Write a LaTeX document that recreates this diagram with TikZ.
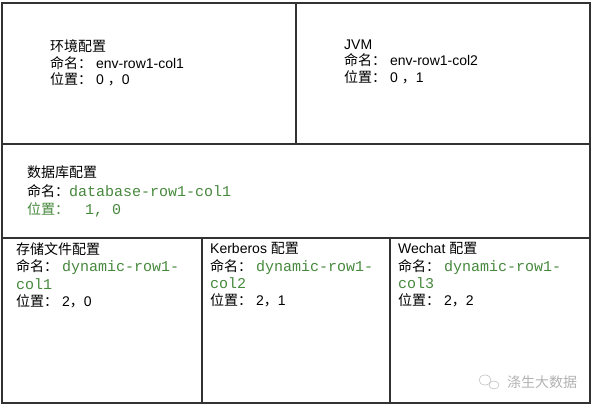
\documentclass[tikz,border=0pt]{standalone}
\usepackage{fontspec}
\setmainfont{Liberation Sans}
\setmonofont{Liberation Mono}
\newfontfamily\cjk{Noto Sans CJK SC}
\usetikzlibrary{positioning}
\definecolor{cfggreen}{RGB}{70,136,60}
\definecolor{framegray}{RGB}{50,50,50}

\newcommand{\cfgname}{{\cjk 命名：}}
\newcommand{\cfgpos}{{\cjk 位置：}}

\begin{document}
\begin{tikzpicture}[x=1pt,y=-1pt,
  frame/.style={draw=framegray,line width=1.1pt},
  cfg/.style={anchor=north west,align=left,inner sep=0pt,
    font=\fontsize{14}{16.5}\selectfont},
  code/.style={text=cfggreen}]
  \useasboundingbox (0,0) rectangle (594,407);

  % Cadre
  \draw[frame] (2,3) rectangle (590,403);
  \draw[frame] (2,144) -- (590,144);
  \draw[frame] (2,238) -- (590,238);
  \draw[frame] (296,3) -- (296,144);
  \draw[frame] (202,238) -- (202,403);
  \draw[frame] (390,238) -- (390,403);

  % Ligne 0
  \node[cfg] (env) at (50,39.5) {{\cjk 环境配置}\\
    \cfgname\ env-row1-col1\\
    \cfgpos\ 0 {\cjk ，}0};
  \node[cfg] (jvm) at (344,39.5) {JVM\\
    \cfgname\ env-row1-col2\\
    \cfgpos\ 0 {\cjk ，}1};

  % Ligne 1
  \node[cfg,font=\fontsize{14}{18.5}\selectfont] (db) at (27,166) {{\cjk 数据库配置}\\
    \cfgname{\ttfamily\fontsize{15}{18.5}\selectfont\color{cfggreen}database-row1-col1}\\
    {\color{cfggreen}\cfgpos\hspace{16pt}{\ttfamily\fontsize{15}{18.5}\selectfont 1, 0}}};

  % Ligne 2
  \node[cfg,font=\fontsize{14}{17.3}\selectfont] (store) at (16,242.5) {{\cjk 存储文件配置}\\
    \cfgname\ {\ttfamily\fontsize{15}{17.3}\selectfont\color{cfggreen}dynamic-row1-}\\
    {\ttfamily\fontsize{15}{17.3}\selectfont\color{cfggreen}col1}\\
    \cfgpos\ 2{\cjk ，}0};
  \node[cfg,font=\fontsize{14}{17.3}\selectfont] (krb) at (210,242.5) {Kerberos {\cjk 配置}\\
    \cfgname\ {\ttfamily\fontsize{15}{17.3}\selectfont\color{cfggreen}dynamic-row1-}\\
    {\ttfamily\fontsize{15}{17.3}\selectfont\color{cfggreen}col2}\\
    \cfgpos\ 2{\cjk ，}1};
  \node[cfg,font=\fontsize{14}{17.3}\selectfont] (wx) at (398,242.5) {Wechat {\cjk 配置}\\
    \cfgname\ {\ttfamily\fontsize{15}{17.3}\selectfont\color{cfggreen}dynamic-row1-}\\
    {\ttfamily\fontsize{15}{17.3}\selectfont\color{cfggreen}col3}\\
    \cfgpos\ 2{\cjk ，}2};

  % Filigrane
  \node[anchor=west,inner sep=0pt,text=gray!60,font=\cjk\fontsize{14}{14}\selectfont] (mark) at (507,382) {涤生大数据};
  \draw[gray!50,line width=0.6pt] (485,380) ellipse (6pt and 5pt);
  \draw[gray!50,line width=0.6pt] (494,385) ellipse (5pt and 4pt);
\end{tikzpicture}
\end{document}
